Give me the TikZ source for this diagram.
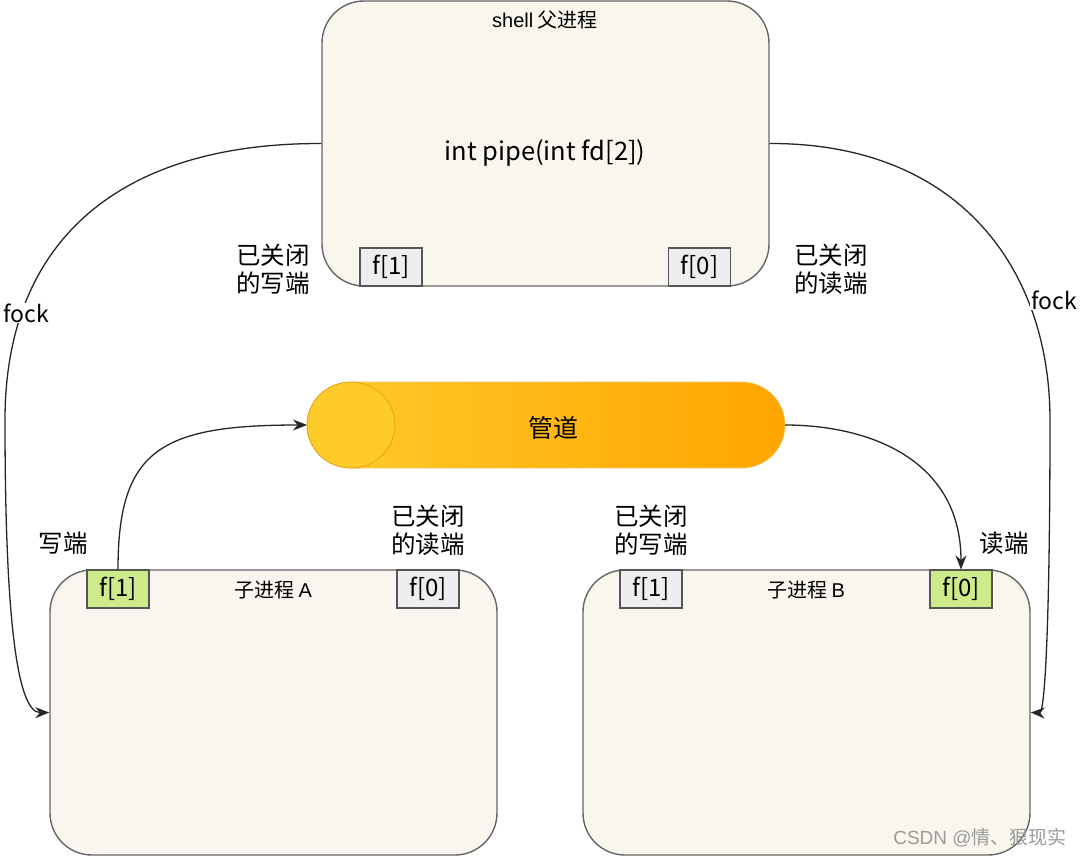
\documentclass[tikz,border=0pt]{standalone}
\usepackage{fontspec}
\setmainfont{Noto Sans CJK SC}
\newfontfamily\arialfont{Liberation Sans}
\usetikzlibrary{arrows.meta}
\definecolor{boxfill}{HTML}{F9F7ED}
\definecolor{boxfillA}{HTML}{FAF5EE}
\definecolor{boxline}{HTML}{666666}
\definecolor{fdgray}{HTML}{EEEEF0}
\definecolor{fdline}{HTML}{555555}
\definecolor{fdgreen}{HTML}{CDEB8B}
\definecolor{pipeL}{HTML}{FFCB2A}
\definecolor{pipeR}{HTML}{FFA500}
\definecolor{pipeEdge}{HTML}{E3A410}
\definecolor{wmark}{HTML}{9A9A9A}
\tikzset{
  proc/.style={draw=boxline, line width=1.4pt, fill=boxfill, rounded corners=42pt,
    minimum width=447pt, minimum height=285pt, inner sep=0pt},
  fdbox/.style={draw=fdline, line width=1.1pt, fill=fdgray, minimum width=62pt,
    minimum height=38pt, inner sep=0pt, font=\fontsize{24}{28}\selectfont},
  fdon/.style={fdbox, fill=fdgreen},
  conn/.style={draw=black!85, line width=1.3pt},
  arr/.style={conn, -{Stealth[length=14pt,width=11pt]}},
  lbl/.style={align=center, inner sep=1pt, font=\fontsize{24.5}{28}\selectfont},
  focklbl/.style={fill=white, inner sep=1pt, font=\fontsize{23}{27}\selectfont},
  title/.style={inner sep=0pt, font=\fontsize{20}{24}\selectfont}
}
\begin{document}
\begin{tikzpicture}[x=1pt,y=-1pt]
\useasboundingbox (0,0) rectangle (1080,857);
% parent box
\node[proc] (shell) at (545.5,143.5) {};
\node[title] (shelltitle) at (545,20) {{\arialfont shell} 父进程};
\node[inner sep=0pt, font=\fontsize{25.5}{30}\selectfont] (pipecall) at (545,153) {int pipe(int fd[2])};
\node[fdbox] (p1) at (391,267) {f[1]};
\node[fdbox] (p0) at (699.5,267) {f[0]};
% children
\node[proc, fill=boxfillA] (childA) at (273.5,712.5) {};
\node[proc] (childB) at (806.5,712.5) {};
\node[title] (titleA) at (273,590) {子进程 {\arialfont A}};
\node[title] (titleB) at (806,590) {子进程 {\arialfont B}};
\node[fdon] (a1) at (118,589) {f[1]};
\node[fdbox] (a0) at (428,589) {f[0]};
\node[fdbox] (b1) at (651,589) {f[1]};
\node[fdon] (b0) at (961,589) {f[0]};
% pipe
\shade[left color=pipeL, right color=pipeR] (351,382) -- (742,382)
  arc[start angle=-90, end angle=90, radius=43] -- (351,468)
  arc[start angle=90, end angle=270, x radius=44, y radius=43] -- cycle;
\draw[pipeEdge!60, line width=0.6pt] (351,382) -- (742,382)
  arc[start angle=-90, end angle=90, radius=43] -- (351,468)
  arc[start angle=90, end angle=270, x radius=44, y radius=43] -- cycle;
\draw[pipeEdge, line width=0.8pt, fill=pipeL] (351,425) ellipse[x radius=44, y radius=43];
\node[inner sep=0pt, font=\fontsize{25}{30}\selectfont] (pipe) at (553,428) {管道};
\coordinate (pipein) at (307,425);
\coordinate (pipeout) at (785,425);
% fork curves
\draw[arr] (shell.west) .. controls (120,143) and (5,240) .. (5,420)
  .. controls (5,600) and (15,713) .. (childA.west);
\draw[arr] (shell.east) .. controls (960,143) and (1050,270) .. (1050,420)
  .. controls (1050,620) and (1045,713) .. (childB.east);
\node[focklbl] (fockL) at (26,313) {fock};
\node[focklbl] (fockR) at (1054,300) {fock};
% pipe arrows
\draw[arr] (a1.north) .. controls (118,450) and (160,425) .. (pipein);
\draw[arr] (pipeout) .. controls (870,425) and (961,460) .. (b0.north);
% labels
\node[lbl] (closedW1) at (273,269) {已关闭\\的写端};
\node[lbl] (closedR1) at (831,269) {已关闭\\的读端};
\node[lbl] (writeA) at (63,543) {写端};
\node[lbl] (closedRA) at (428,530) {已关闭\\的读端};
\node[lbl] (closedWB) at (651,530) {已关闭\\的写端};
\node[lbl] (readB) at (1004,543) {读端};
% watermark
\node[inner sep=0pt, text=wmark, font=\fontsize{19}{22}\selectfont] (wm) at (980,838) {{\arialfont CSDN @}情、狠现实};
\end{tikzpicture}
\end{document}
